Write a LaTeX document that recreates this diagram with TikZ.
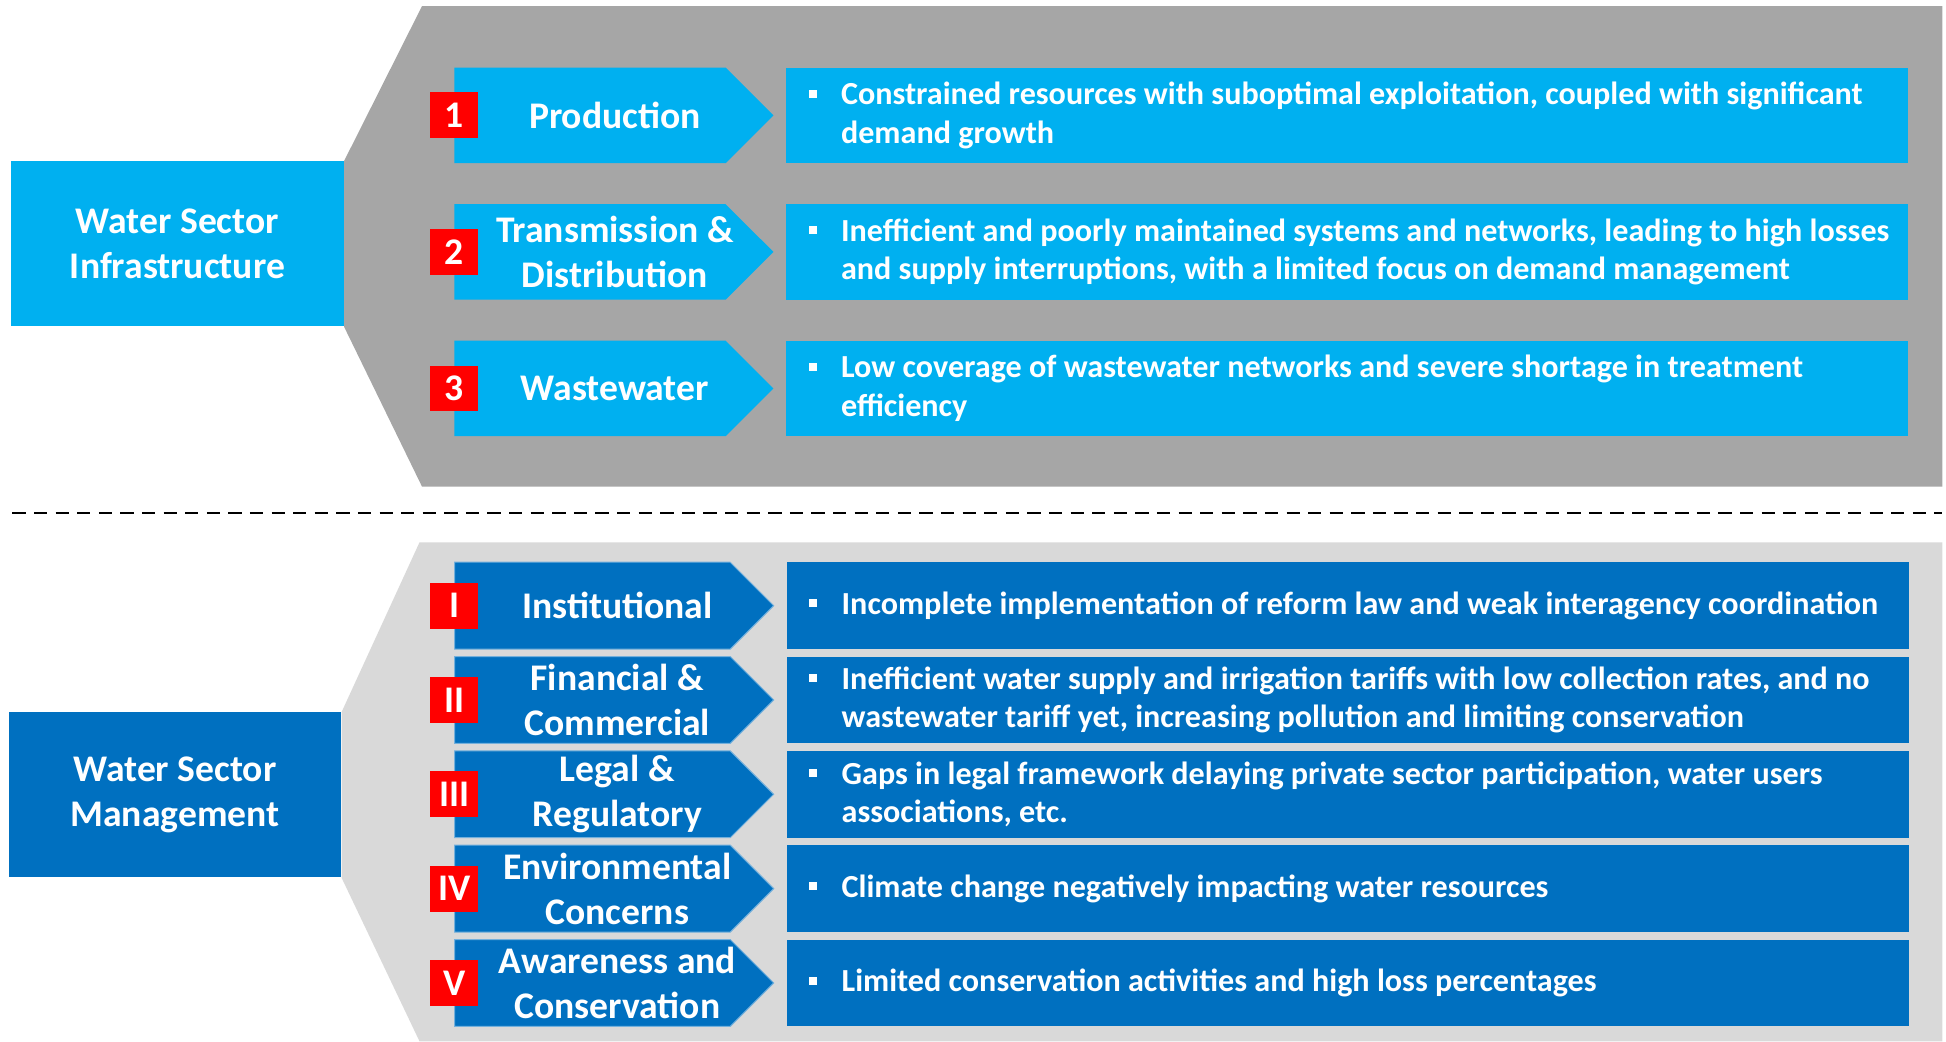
\documentclass[tikz,border=0pt]{standalone}
\usepackage{fontspec}
\setmainfont{Carlito}
\usetikzlibrary{positioning, shapes.symbols}

\definecolor{infblue}{HTML}{00B0F0}
\definecolor{mgtblue}{HTML}{0070C0}
\definecolor{infgray}{HTML}{A6A6A6}
\definecolor{mgtgray}{HTML}{D9D9D9}
\definecolor{numred}{HTML}{FF0000}

\newcommand{\issuetext}[1]{%
    \makebox[44pt][l]{\hspace*{18pt}\rule[5.5pt]{6.5pt}{6.5pt}}%
    \parbox[t]{860pt}{\raggedright #1}}

\begin{document}
\begin{tikzpicture}[
        x=1pt, y=-1pt,
        big/.style={font=\fontsize{30.3}{36}\selectfont\bfseries, text=white},
        sector/.style={rectangle, fill=#1, big, align=center,
            minimum width=268pt, minimum height=133pt, inner sep=0pt},
        area/.style={signal, signal to=east, signal pointer angle=90, fill=#1, anchor=west,
            minimum width=257pt, inner sep=0pt},
        areatext/.style={big, align=center, xshift=20pt},
        num/.style={rectangle, fill=numred, big,
            minimum width=39pt, minimum height=37pt, inner sep=0pt},
        issue/.style={rectangle, fill=#1, text=white, font=\fontsize{25.9}{31}\selectfont\bfseries,
            minimum width=904pt, inner sep=0pt, anchor=west},
        mgtline/.style={draw=mgtblue!55!white, line width=0.8pt},
        node distance=10pt
    ]
        \useasboundingbox (0,0) rectangle (1568,839);

        % left boxes
        \node[sector=infblue] (Infra) at (143,196.5) {Water Sector\\Infrastructure};
        \node[sector=mgtblue] (Mgmt) at (141,640.5) {Water Sector\\Management};

        % backgrounds
        \fill[infgray] (Infra.north east) -- (340,5) -- (1565,5) -- (1565,392) -- (340,392) -- (Infra.south east) -- cycle;
        \fill[mgtgray] (Mgmt.north east) -- (338,437) -- (1565,437) -- (1565,839) -- (338,839) -- (Mgmt.south east) -- cycle;

        % separator
        \coordinate (cutL) at (10,413);
        \coordinate (cutR) at (1565,413);
        \draw[line width=1.6pt, dash pattern=on 10.7pt off 6.7pt] (cutL) -- (cutR);

        % infrastructure
        \node[area=infblue, minimum height=77pt, label={[areatext]center:Production}] (Prod) at (366,93) {};
        \node[area=infblue, minimum height=77pt, label={[areatext]center:Transmission \&\\Distribution}] (Trans) at (366,203) {};
        \node[area=infblue, minimum height=77pt, label={[areatext]center:Wastewater}] (Waste) at (366,313) {};

        \node[issue=infblue, minimum height=77pt, right=of Prod] (ProdIssue) {\issuetext{%
            Constrained resources with suboptimal exploitation, coupled with significant\\demand growth}};
        \node[issue=infblue, minimum height=77pt, right=of Trans] (TransIssue) {\issuetext{%
            Inefficient and poorly maintained systems and networks, leading to high losses\\and supply interruptions, with a limited focus on demand management}};
        \node[issue=infblue, minimum height=77pt, right=of Waste] (WasteIssue) {\issuetext{%
            Low coverage of wastewater networks and severe shortage in treatment\\efficiency}};

        \node[num] at (Prod.west) {1};
        \node[num] at (Trans.west) {2};
        \node[num] at (Waste.west) {3};

        % management
        \node[area=mgtblue, mgtline, minimum height=70pt, label={[areatext]center:Institutional}] (Inst) at (366,488) {};
        \node[area=mgtblue, mgtline, minimum height=70pt, label={[areatext]center:Financial \&\\Commercial}] (Fin) at (366,564) {};
        \node[area=mgtblue, mgtline, minimum height=70pt, label={[areatext]center:Legal \&\\Regulatory}] (Legal) at (366,640) {};
        \node[area=mgtblue, mgtline, minimum height=70pt, label={[areatext]center:Environmental\\Concerns}] (Env) at (366,716) {};
        \node[area=mgtblue, mgtline, minimum height=70pt, label={[areatext]center:Awareness and\\Conservation}] (Aware) at (366,792) {};

        \node[issue=mgtblue, minimum height=70pt, right=of Inst] (InstIssue) {\issuetext{%
            Incomplete implementation of reform law and weak interagency coordination}};
        \node[issue=mgtblue, minimum height=70pt, right=of Fin] (FinIssue) {\issuetext{%
            Inefficient water supply and irrigation tariffs with low collection rates, and no\\wastewater tariff yet, increasing pollution and limiting conservation}};
        \node[issue=mgtblue, minimum height=70pt, right=of Legal] (LegalIssue) {\issuetext{%
            Gaps in legal framework delaying private sector participation, water users\\associations, etc.}};
        \node[issue=mgtblue, minimum height=70pt, right=of Env] (EnvIssue) {\issuetext{%
            Climate change negatively impacting water resources}};
        \node[issue=mgtblue, minimum height=70pt, right=of Aware] (AwareIssue) {\issuetext{%
            Limited conservation activities and high loss percentages}};

        \node[num] at (Inst.west) {I};
        \node[num] at (Fin.west) {II};
        \node[num] at (Legal.west) {III};
        \node[num] at (Env.west) {IV};
        \node[num] at (Aware.west) {V};
    \end{tikzpicture}
\end{document}
